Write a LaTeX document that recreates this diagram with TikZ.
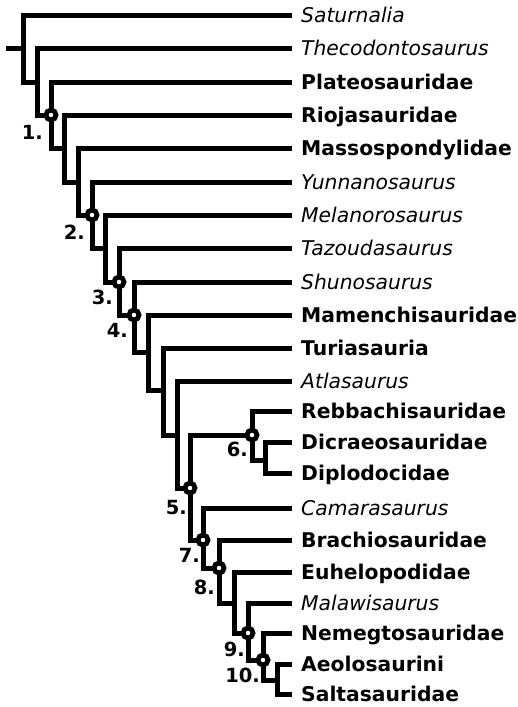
\documentclass[tikz,border=0pt]{standalone}
\usepackage{fontspec}
\setmainfont{DejaVu Sans}
\usepackage{tkz-euclide}

\tikzset{
  branch/.style={line width=5pt,black},
  ring/.style={line width=4.8pt,black,fill=white},
  taxon/.style={anchor=west,inner xsep=9pt,inner ysep=0pt,text height=14.7pt,text depth=0pt},
  clade/.style={taxon,font=\fontsize{20.3}{24}\selectfont\bfseries},
  genus/.style={taxon,font=\fontsize{20.3}{24}\selectfont\itshape},
  num/.style={anchor=north east,inner sep=0pt,text height=14pt,text depth=0pt,font=\fontsize{19.5}{22}\selectfont\bfseries}
}

\begin{document}
\begin{tikzpicture}[x=1pt,y=-1pt]
\useasboundingbox (0,0) rectangle (518,707);

% taxa
\node[genus] (L0) at (292,15) {Saturnalia};
\node[genus] (L1) at (292,48) {Thecodontosaurus};
\node[clade] (L2) at (292,82) {Plateosauridae};
\node[clade] (L3) at (292,115) {Riojasauridae};
\node[clade] (L4) at (292,148) {Massospondylidae};
\node[genus] (L5) at (292,182) {Yunnanosaurus};
\node[genus] (L6) at (292,215) {Melanorosaurus};
\node[genus] (L7) at (292,248) {Tazoudasaurus};
\node[genus] (L8) at (292,282) {Shunosaurus};
\node[clade] (L9) at (292,315) {Mamenchisauridae};
\node[clade] (L10) at (292,348) {Turiasauria};
\node[genus] (L11) at (292,381) {Atlasaurus};
\node[clade] (L12) at (292,411) {Rebbachisauridae};
\node[clade] (L13) at (292,442) {Dicraeosauridae};
\node[clade] (L14) at (292,473) {Diplodocidae};
\node[genus] (L15) at (292,508) {Camarasaurus};
\node[clade] (L16) at (292,540) {Brachiosauridae};
\node[clade] (L17) at (292,572) {Euhelopodidae};
\node[genus] (L18) at (292,603) {Malawisaurus};
\node[clade] (L19) at (292,633) {Nemegtosauridae};
\node[clade] (L20) at (292,664) {Aeolosaurini};
\node[clade] (L21) at (292,694) {Saltasauridae};

% branch points
\tkzDefPoints{6/48/R,23/48/N0,37/82/N1,51/115/N2,64/148/N3,78/182/N4,92/215/N5,105/248/N6}
\tkzDefPoints{119/282/N7,134/315/N8,148/352/N9,163/390/N10,177/435/N11,190/488/N12}
\tkzDefPoints{203/540/N13,219/568/N14,234/603/N15,248/633/N16,263/660/N17,277/680/N18}
\tkzDefPoints{252/435/D1,265/460/D2}

\draw[branch] (R) -- (N0);
\draw[branch] (L0.west) -| (N0) |- (N1);
\draw[branch] (L1.west) -| (N1) |- (N2);
\draw[branch] (L2.west) -| (N2) |- (N3);
\draw[branch] (L3.west) -| (N3) |- (N4);
\draw[branch] (L4.west) -| (N4) |- (N5);
\draw[branch] (L5.west) -| (N5) |- (N6);
\draw[branch] (L6.west) -| (N6) |- (N7);
\draw[branch] (L7.west) -| (N7) |- (N8);
\draw[branch] (L8.west) -| (N8) |- (N9);
\draw[branch] (L9.west) -| (N9) |- (N10);
\draw[branch] (L10.west) -| (N10) |- (N11);
\draw[branch] (L11.west) -| (N11) |- (N12);
\draw[branch] (D1) -| (N12) |- (N13);
\draw[branch] (L12.west) -| (D1) |- (D2);
\draw[branch] (L13.west) -| (D2) |- (L14.west);
\draw[branch] (L15.west) -| (N13) |- (N14);
\draw[branch] (L16.west) -| (N14) |- (N15);
\draw[branch] (L17.west) -| (N15) |- (N16);
\draw[branch] (L18.west) -| (N16) |- (N17);
\draw[branch] (L19.west) -| (N17) |- (N18);
\draw[branch] (L20.west) -| (N18) |- (L21.west);

% numbered nodes
\draw[ring] (N2) circle (5pt);
\draw[ring] (N5) circle (5pt);
\draw[ring] (N7) circle (5pt);
\draw[ring] (N8) circle (5pt);
\draw[ring] (N12) circle (5pt);
\draw[ring] (D1) circle (5pt);
\draw[ring] (N13) circle (5pt);
\draw[ring] (N14) circle (5pt);
\draw[ring] (N16) circle (5pt);
\draw[ring] (N17) circle (5pt);

\node[num] (n1) at (43,125) {1.};
\node[num] (n2) at (85,225) {2.};
\node[num] (n3) at (113,290) {3.};
\node[num] (n4) at (128,323) {4.};
\node[num] (n5) at (187,500) {5.};
\node[num] (n6) at (248,442) {6.};
\node[num] (n7) at (200,548) {7.};
\node[num] (n8) at (215,580) {8.};
\node[num] (n9) at (245,642) {9.};
\node[num] (n10) at (260,668) {10.};

\end{tikzpicture}
\end{document}
